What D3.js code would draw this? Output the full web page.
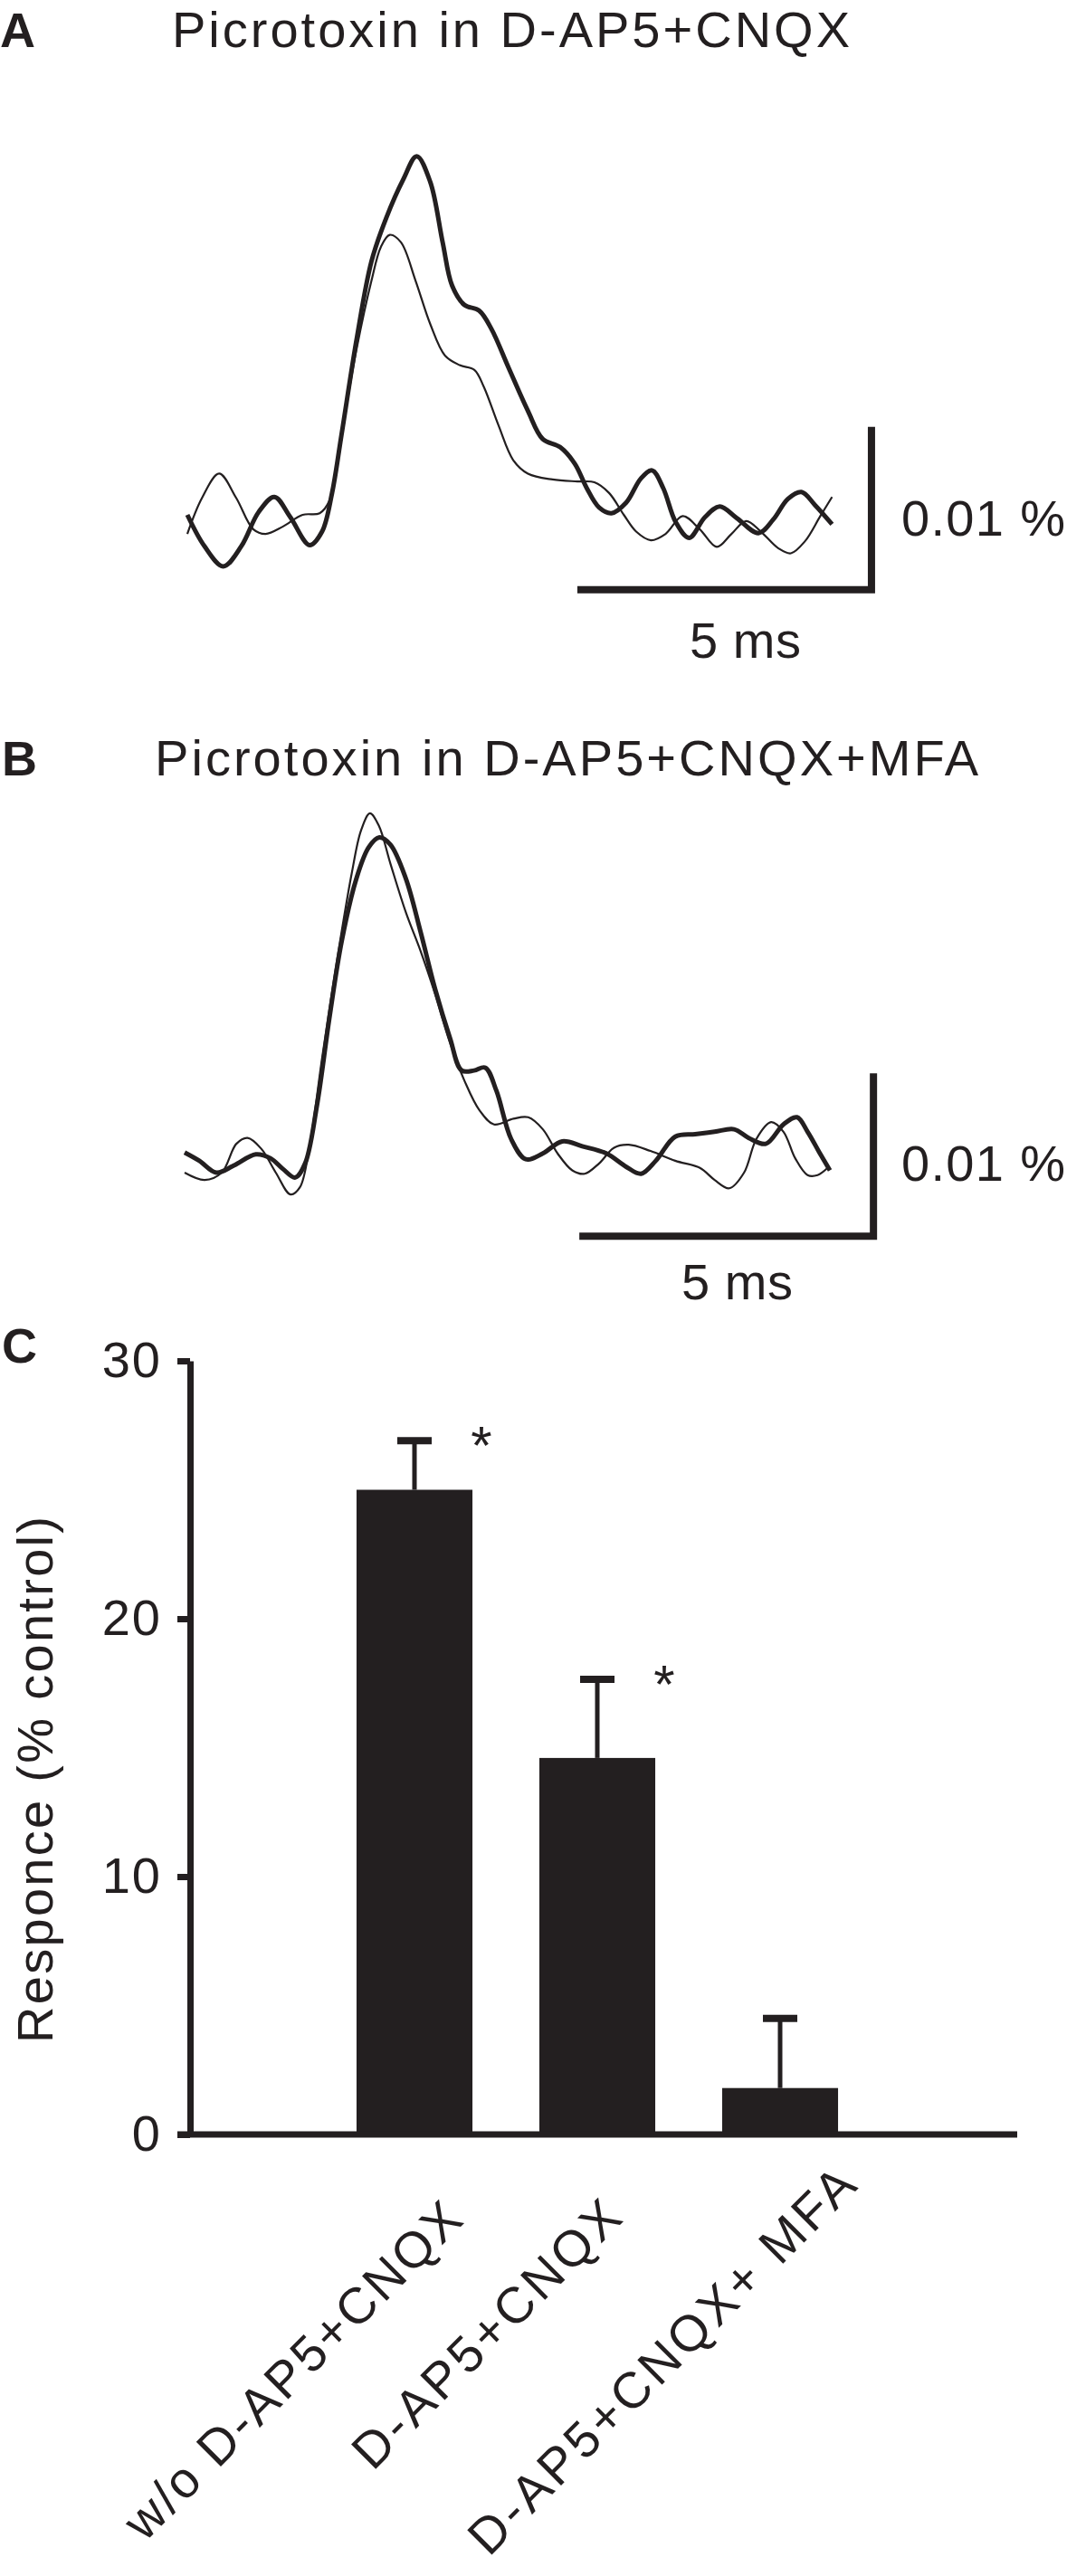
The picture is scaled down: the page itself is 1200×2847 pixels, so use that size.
<!DOCTYPE html>
<html><head><meta charset="utf-8">
<script src="https://cdn.jsdelivr.net/npm/d3@7"></script>
<style>
body{margin:0;background:#fff}
svg{display:block}
text{font-family:"Liberation Sans",Arial,Helvetica,sans-serif;fill:#231f20}
</style>
</head><body>
<svg id="c" width="1200" height="2847"></svg>
<script>
// ---------- DATA ----------
// Traces: [time (ms), amplitude (units of 0.001 %)]
const traceA_thick = [[0.00,0.0],[0.29,-1.92],[0.61,-3.16],[0.92,-1.91],[1.21,0.16],[1.48,1.10],[1.75,-0.14],[2.08,-1.86],[2.29,-1.03],[2.46,1.34],[2.62,4.90],[2.88,10.82],[3.13,15.56],[3.38,18.22],[3.67,20.59],[3.90,22.02],[4.13,20.44],[4.34,16.74],[4.50,14.08],[4.71,12.89],[4.96,12.54],[5.17,11.41],[5.46,9.04],[5.79,6.38],[6.04,4.66],[6.34,4.15],[6.59,3.12],[6.79,1.64],[7.00,0.45],[7.21,0.10],[7.46,0.75],[7.71,2.23],[7.90,2.73],[8.09,1.64],[8.30,-0.43],[8.53,-1.41],[8.80,-0.14],[9.05,0.51],[9.34,-0.20],[9.71,-1.12],[9.96,-0.29],[10.21,0.98],[10.44,1.40],[10.67,0.60],[10.96,-0.58]];
const traceA_thin = [[0.00,-1.17],[0.25,1.04],[0.54,2.53],[0.83,1.04],[1.12,-0.88],[1.33,-1.17],[1.62,-0.73],[1.96,0.0],[2.25,0.10],[2.42,0.90],[2.62,4.90],[2.88,10.23],[3.13,14.37],[3.29,16.45],[3.44,17.19],[3.63,16.74],[3.88,14.37],[4.13,11.71],[4.38,9.78],[4.63,9.19],[4.88,8.90],[5.04,7.86],[5.29,5.49],[5.54,3.36],[5.79,2.53],[6.21,2.17],[6.63,2.05],[6.92,2.00],[7.17,1.34],[7.42,0.0],[7.63,-1.03],[7.88,-1.56],[8.13,-1.17],[8.42,-0.08],[8.71,-0.88],[9.00,-1.97],[9.25,-1.17],[9.50,-0.38],[9.75,-1.03],[10.05,-2.06],[10.26,-2.36],[10.50,-1.62],[10.76,-0.08],[10.96,1.10]];
const traceB_thick = [[0.00,1.24],[0.25,0.73],[0.54,0.0],[0.84,0.44],[1.21,1.12],[1.46,0.88],[1.67,0.23],[1.88,-0.30],[2.05,0.58],[2.25,4.14],[2.46,9.47],[2.67,14.21],[2.92,18.06],[3.13,19.98],[3.31,20.58],[3.50,20.13],[3.76,18.06],[4.01,14.80],[4.26,11.25],[4.51,8.28],[4.71,6.27],[4.92,6.27],[5.11,6.45],[5.30,5.03],[5.55,2.07],[5.80,0.82],[6.09,1.18],[6.42,1.92],[6.76,1.62],[7.17,1.18],[7.51,0.35],[7.76,-0.07],[8.01,0.73],[8.34,2.21],[8.68,2.36],[9.01,2.51],[9.34,2.66],[9.59,2.13],[9.88,1.77],[10.18,2.96],[10.41,3.40],[10.59,2.51],[10.80,1.18],[10.97,0.14]];
const traceB_thin = [[0.00,0.0],[0.34,-0.45],[0.63,0.0],[0.88,1.77],[1.07,2.13],[1.30,1.48],[1.55,0.0],[1.80,-1.34],[1.96,-0.90],[2.13,1.77],[2.34,7.10],[2.59,13.03],[2.84,18.36],[3.00,21.02],[3.15,22.06],[3.30,21.32],[3.50,18.95],[3.76,15.99],[4.01,13.62],[4.26,10.95],[4.51,7.99],[4.76,5.62],[5.01,3.84],[5.26,2.96],[5.59,3.31],[5.84,3.40],[6.09,2.66],[6.34,1.18],[6.59,0.14],[6.80,-0.07],[7.05,0.58],[7.30,1.53],[7.55,1.71],[7.92,1.33],[8.34,0.73],[8.76,0.29],[9.01,-0.45],[9.26,-0.96],[9.51,0.0],[9.72,2.07],[9.97,3.10],[10.18,2.51],[10.38,0.88],[10.59,-0.15],[10.76,-0.15],[10.93,0.29]];
const scaleBarTime = 5;   // ms
const scaleBarAmp = 10;   // 0.001 % units -> 0.01 %

// Bar chart
const categories = ["w/o D-AP5+CNQX", "D-AP5+CNQX", "D-AP5+CNQX+ MFA"];
const means = [25.0, 14.6, 1.8];
const sems = [1.9, 3.05, 2.7];
const signif = ["*", "*", ""];
const yTicks = [0, 10, 20, 30];

// ---------- LAYOUT ----------
const labelLen = [501, 393, 578];          // rendered label lengths (px)
const labelEnd = [[56, 2456], [30, 2454], [87, 2418]]; // end anchor: dx from bar centre, y

// ---------- DRAW ----------
const ink = "#231f20";
const svg = d3.select("#c");
svg.append("rect").attr("width",1200).attr("height",2847).attr("fill","#fff");

function panel(cfg){
  const x = d3.scaleLinear().domain([0,1]).range([cfg.x0, cfg.x0+65]);
  const y = d3.scaleLinear().domain([0,1]).range([cfg.y0, cfg.y0-18]);
  const line = d3.line().x(d=>x(d[0])).y(d=>y(d[1])).curve(d3.curveCatmullRom.alpha(0.5));
  const g = svg.append("g");
  g.append("path").datum(cfg.thin).attr("d",line).attr("fill","none").attr("stroke",ink).attr("stroke-width",2.2).attr("stroke-linejoin","round");
  g.append("path").datum(cfg.thick).attr("d",line).attr("fill","none").attr("stroke",ink).attr("stroke-width",5).attr("stroke-linejoin","round");
  const tc = cfg.tc, vc = cfg.vc;
  g.append("path")
    .attr("d", `M${x(tc-scaleBarTime)},${y(vc)}H${x(tc)}V${y(vc+scaleBarAmp)}`)
    .attr("fill","none").attr("stroke",ink).attr("stroke-width",8).attr("stroke-linejoin","miter");
  g.append("text").attr("x",cfg.ampX).attr("y",cfg.ampY).attr("font-size",56)
    .attr("textLength",181).attr("lengthAdjust","spacing").text("0.01 %");
  g.append("text").attr("x",cfg.msX).attr("y",cfg.msY).attr("font-size",56)
    .attr("textLength",123).attr("lengthAdjust","spacing").text("5 ms");
  g.append("text").attr("x",cfg.letterX).attr("y",cfg.titleY).attr("font-size",54).attr("font-weight","bold").text(cfg.letter);
  g.append("text").attr("x",cfg.titleX).attr("y",cfg.titleY).attr("font-size",56)
    .attr("textLength",cfg.titleLen).attr("lengthAdjust","spacing").text(cfg.title);
}

panel({x0:207, y0:569, thick:traceA_thick, thin:traceA_thin, tc:11.63, vc:-4.6,
  ampX:996, ampY:592, msX:762, msY:727, letter:"A", letterX:0, titleX:190, titleY:52, titleLen:749,
  title:"Picrotoxin in D-AP5+CNQX"});
panel({x0:204, y0:1296, thick:traceB_thick, thin:traceB_thin, tc:11.71, vc:-3.9,
  ampX:996, ampY:1305, msX:753, msY:1436, letter:"B", letterX:2, titleX:171, titleY:857, titleLen:910,
  title:"Picrotoxin in D-AP5+CNQX+MFA"});

// Panel C
const yC = d3.scaleLinear().domain([0,30]).range([2359,1504]);
const xC = d3.scaleBand().domain(categories).range([357,963]).paddingInner(0.366).paddingOuter(0.183);
const gC = svg.append("g");
gC.append("text").attr("x",2).attr("y",1506).attr("font-size",54).attr("font-weight","bold").text("C");

const bars = categories.map((c,i)=>({c, m:means[i], s:sems[i], sig:signif[i], i}));
const cx = d => xC(d.c)+xC.bandwidth()/2;
gC.selectAll("rect.bar").data(bars).join("rect").attr("class","bar")
  .attr("x",d=>xC(d.c)).attr("y",d=>yC(d.m)).attr("width",xC.bandwidth())
  .attr("height",d=>yC(0)-yC(d.m)).attr("fill",ink);
gC.selectAll("line.err").data(bars).join("line").attr("class","err")
  .attr("x1",cx).attr("x2",cx)
  .attr("y1",d=>yC(d.m)).attr("y2",d=>yC(d.m+d.s)).attr("stroke",ink).attr("stroke-width",5);
gC.selectAll("line.cap").data(bars).join("line").attr("class","cap")
  .attr("x1",d=>cx(d)-19).attr("x2",d=>cx(d)+19)
  .attr("y1",d=>yC(d.m+d.s)).attr("y2",d=>yC(d.m+d.s)).attr("stroke",ink).attr("stroke-width",8);
gC.selectAll("text.sig").data(bars.filter(d=>d.sig)).join("text").attr("class","sig")
  .attr("x",d=>xC(d.c)+xC.bandwidth()+10).attr("y",d=>yC(d.m+d.s)+26)
  .attr("text-anchor","middle").attr("font-size",60).text(d=>d.sig);

// y axis
const yAxis = d3.axisLeft(yC).tickValues(yTicks).tickSize(14).tickPadding(17).tickSizeOuter(0).tickFormat(d3.format("d"));
const ga = gC.append("g").attr("transform","translate(210,0)").call(yAxis);
ga.select(".domain").attr("stroke",ink).attr("stroke-width",7);
ga.selectAll(".tick line").attr("stroke",ink).attr("stroke-width",7);
ga.selectAll(".tick text").attr("font-size",56).attr("fill",ink)
  .attr("font-family","'Liberation Sans',Arial,sans-serif").attr("letter-spacing",2);
// x axis line
gC.append("line").attr("x1",196).attr("x2",1124).attr("y1",yC(0)).attr("y2",yC(0))
  .attr("stroke",ink).attr("stroke-width",7);

// y label
gC.append("text").attr("transform","translate(58,1967) rotate(-90)").attr("text-anchor","middle")
  .attr("font-size",56).attr("textLength",582).attr("lengthAdjust","spacing").text("Responce (% control)");

// category labels
gC.selectAll("text.cat").data(bars).join("text").attr("class","cat")
  .attr("transform",d=>`translate(${cx(d)+labelEnd[d.i][0]},${labelEnd[d.i][1]}) rotate(-45)`)
  .attr("text-anchor","end").attr("font-size",56)
  .attr("textLength",d=>labelLen[d.i]).attr("lengthAdjust","spacing").text(d=>d.c);
</script>
</body></html>
